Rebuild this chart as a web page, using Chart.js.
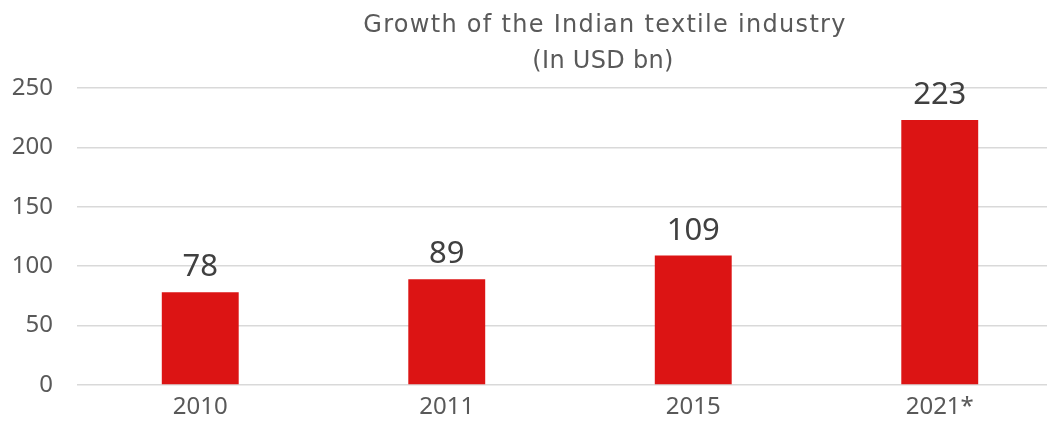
<!DOCTYPE html>
<html>
<head>
<meta charset="utf-8">
<script src="https://cdn.jsdelivr.net/npm/chart.js@4/dist/chart.umd.min.js"></script>
<style>
  html, body { margin: 0; padding: 0; background: #fff; overflow: hidden; }
  #wrap { width: 1100px; height: 431px; }
</style>
</head>
<body>
<div id="wrap"><canvas id="textileChart"></canvas></div>
<script>
const categories = ['2010', '2011', '2015', '2021*'];
const values = [78, 89, 109, 223];
const yTicks = [0, 50, 100, 150, 200, 250];
const titleLines = ['Growth of the Indian textile industry', '(In USD bn)'];

const FONT = "'Noto Sans', sans-serif";
const TITLE_FONT = "'DejaVu Sans', sans-serif";

// title drawn by hand so it can sit off-centre like the original
const titlePlugin = {
    id: 'titleText',
    afterDraw(chart) {
        const c = chart.ctx;
        c.save();
        c.fillStyle = '#595959';
        c.font = "24px " + TITLE_FONT;
        c.textAlign = 'center';
        c.textBaseline = 'middle';
        c.letterSpacing = '1.3px';
        c.fillText(titleLines[0], 605, 26);
        c.letterSpacing = '0.3px';
        c.fillText(titleLines[1], 603, 62);
        c.restore();
    }
};

// value labels above the bars
const valueLabels = {
    id: 'valueLabels',
    afterDatasetsDraw(chart) {
        const c = chart.ctx;
        const meta = chart.getDatasetMeta(0);
        c.save();
        c.fillStyle = '#404040';
        c.font = "31px " + FONT;
        c.textAlign = 'center';
        c.textBaseline = 'alphabetic';
        meta.data.forEach((bar, i) => {
            c.fillText(String(values[i]), bar.x, bar.y - 16);
        });
        c.restore();
    }
};

new Chart(document.getElementById('textileChart'), {
    type: 'bar',
    data: {
        labels: categories,
        datasets: [{
            label: 'USD bn',
            data: values,
            backgroundColor: '#dc1414',
            borderWidth: 0,
            categoryPercentage: 1,
            barPercentage: 0.312
        }]
    },
    options: {
        responsive: true,
        maintainAspectRatio: false,
        animation: false,
        layout: { padding: { top: 88, right: 37, left: 0, bottom: 0 } },
        plugins: {
            legend: { display: false },
            title: { display: false },
            tooltip: { enabled: false }
        },
        scales: {
            x: {
                offset: true,
                grid: { display: false, drawTicks: false },
                border: { display: false },
                ticks: { color: '#595959', font: { family: FONT, size: 24 }, padding: 8 },
                afterFit: s => { s.height = 46; }
            },
            y: {
                min: 0,
                max: 250,
                afterBuildTicks: s => { s.ticks = yTicks.map(v => ({ value: v })); },
                grid: { color: '#d9d9d9', lineWidth: 1.5, drawTicks: false },
                border: { display: false },
                ticks: { color: '#595959', font: { family: FONT, size: 24 }, padding: 24 },
                afterFit: s => { s.width = 77; }
            }
        }
    },
    plugins: [titlePlugin, valueLabels]
});
</script>
</body>
</html>
